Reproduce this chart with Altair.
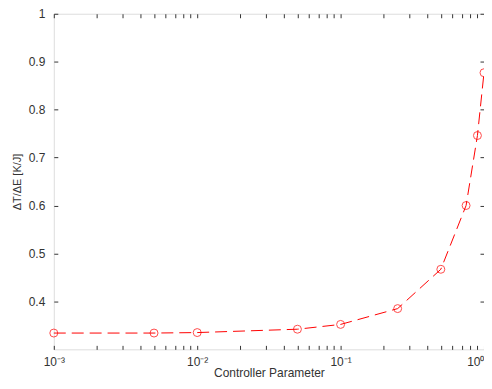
import altair as alt
import pandas as pd

x_vals = [0.001, 0.005, 0.01, 0.05, 0.1, 0.25, 0.5, 0.75, 0.9, 1.0]
y_vals = [0.334, 0.334, 0.335, 0.342, 0.352, 0.385, 0.467, 0.600, 0.746, 0.877]

x_ticks = [0.001, 0.002, 0.003, 0.004, 0.005, 0.006, 0.007, 0.008, 0.009,
           0.01, 0.02, 0.03, 0.04, 0.05, 0.06, 0.07, 0.08, 0.09,
           0.1, 0.2, 0.3, 0.4, 0.5, 0.6, 0.7, 0.8, 0.9, 1.0]
y_ticks = [0.4, 0.5, 0.6, 0.7, 0.8, 0.9, 1.0]

df = pd.DataFrame({"x": x_vals, "y": y_vals})

AX = "#333333"
FONT = "Liberation Sans"

xscale = alt.Scale(type="log", domain=[0.001, 1], nice=False)
yscale = alt.Scale(domain=[0.3, 1.0], nice=False, zero=False)

x_label_expr = ("datum.value < 0.0015 ? '10⁻³' : (abs(datum.value-0.01) < 0.0001 ? '10⁻²' : "
                "(abs(datum.value-0.1) < 0.001 ? '10⁻¹' : (datum.value > 0.99 ? '10⁰' : '')))")
y_label_expr = "datum.value > 0.99 ? '1' : format(datum.value, '.1f')"

common_axis = dict(domain=False, tickSize=4, offset=-4, tickColor=AX, tickWidth=1,
                   labelFont=FONT, labelFontSize=12, labelColor=AX, titleFont=FONT,
                   titleColor=AX, titleFontWeight="normal", grid=False)

line = alt.Chart(df).mark_line(color="#ff0000", strokeDash=[12, 6], strokeWidth=1).encode(
    x=alt.X("x:Q", scale=xscale,
            axis=alt.Axis(orient="bottom", values=x_ticks, labelExpr=x_label_expr,
                          labelAlign={"condition": {"test": "datum.value > 0.99", "value": "right"},
                                      "value": "center"},
                          title="Controller Parameter", labelPadding=7, titlePadding=0,
                          titleFontSize=12,
                          labelFlush=False, labelOverlap=False, **common_axis)),
    y=alt.Y("y:Q", scale=yscale,
            axis=alt.Axis(orient="left", values=y_ticks, labelExpr=y_label_expr,
                          title="ΔT/ΔE [K/J]", labelPadding=9, titlePadding=6,
                          titleFontSize=11,
                          labelFlush=False, **common_axis)),
)

points = alt.Chart(df).mark_point(color="#ff0000", filled=False, size=64, strokeWidth=1).encode(
    x=alt.X("x:Q", scale=xscale, axis=None),
    y=alt.Y("y:Q", scale=yscale, axis=None),
)

frame = alt.Chart(df).mark_point(opacity=0).encode(
    x=alt.X("x:Q", scale=xscale,
            axis=alt.Axis(orient="top", values=x_ticks, labels=False, title=None, **common_axis)),
    y=alt.Y("y:Q", scale=yscale,
            axis=alt.Axis(orient="right", values=y_ticks, labels=False, title=None, **common_axis)),
)

chart = alt.layer(line, points, frame).resolve_axis(x="independent", y="independent").properties(
    width=432, height=337,
    autosize=alt.AutoSizeParams(type="none"),
    padding={"left": 46, "top": 5, "right": 0, "bottom": 31},
).configure_view(stroke=AX, strokeWidth=1).configure(background="white")

chart.save("out.html", embed_options={"renderer": "svg", "actions": False})
